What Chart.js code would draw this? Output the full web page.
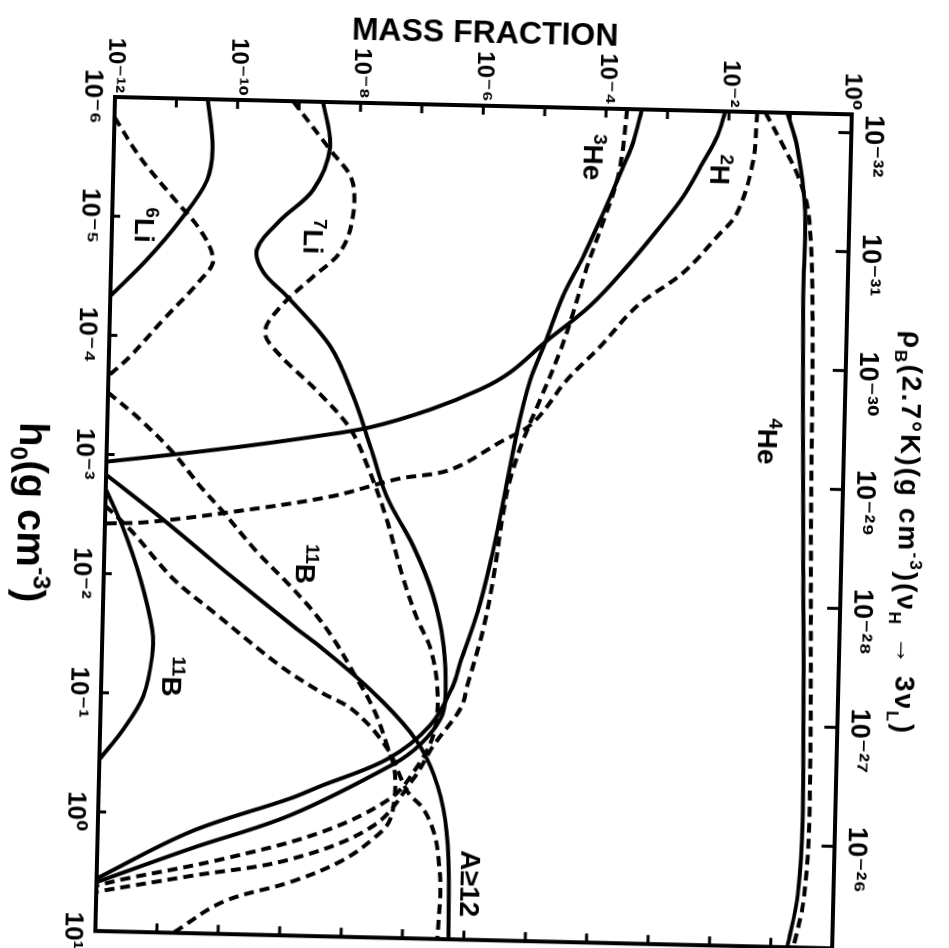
<!DOCTYPE html>
<html><head><meta charset="utf-8">
<title>Mass fraction vs h0</title>
<script src="https://cdn.jsdelivr.net/npm/chart.js@4.4.1/dist/chart.umd.min.js"></script>
<style>
html,body{margin:0;padding:0;background:#fff;}
body{width:949px;height:948px;overflow:hidden;position:relative;}
#wrap{position:absolute;left:15px;top:-750px;width:960px;height:960px;transform-origin:100px 847px;transform:rotate(91.35deg);}
#c{display:block;width:960px;height:960px;}
</style></head><body>
<div id="wrap"><canvas id="c" width="960" height="960"></canvas></div>
<script>
// ---- axis ticks ----
const h0Ticks = [1e-6, 1e-5, 1e-4, 1e-3, 1e-2, 1e-1, 1, 10];
const massTicks = [1e-12, 1e-11, 1e-10, 1e-9, 1e-8, 1e-7, 1e-6, 1e-5, 1e-4, 1e-3, 1e-2, 1e-1, 1];
const rhoTicks = [1e-32, 1e-31, 1e-30, 1e-29, 1e-28, 1e-27, 1e-26];
const rhoMin = 7.2e-33, rhoMax = 7.2e-26;   // rho_B at h0 = 1e-6 and h0 = 10

// ---- series: h0 (g cm^-3) and mass fraction ----
const he4Solid_h0 = [1e-6, 1.9e-6, 6.8e-6, 3.6e-5, 2.2e-3, 0.72, 3.6, 10];
const he4Solid_X  = [8.9e-2, 0.132, 0.19, 0.19, 0.23, 0.295, 0.263, 0.186];
const he4Dash_h0 = [1e-6, 1.9e-6, 3.4e-6, 6.8e-6, 3.6e-5, 2.2e-3, 0.72, 3.9, 10];
const he4Dash_X  = [3.9e-2, 7.9e-2, 0.141, 0.214, 0.269, 0.309, 0.38, 0.331, 0.234];

const h2Solid_h0 = [1e-6, 1.62e-6, 2.69e-6, 5.25e-6, 1.02e-5, 2.09e-5, 4.57e-5, 9.33e-5, 1.70e-4, 2.40e-4, 3.63e-4, 5.25e-4, 6.46e-4, 7.94e-4, 9.55e-4, 1.15e-3];
const h2Solid_X  = [8.71e-3, 6.61e-3, 3.98e-3, 1.95e-3, 7.59e-4, 2.51e-4, 6.46e-5, 1.26e-5, 3.47e-6, 1.15e-6, 1.78e-7, 1.91e-8, 2.29e-9, 1.95e-10, 1.58e-11, 1e-12];
const h2Dash_h0 = [1e-6, 2.63e-6, 7.08e-6, 1.12e-5, 2.29e-5, 4.47e-5, 1e-4, 1.91e-4, 4.47e-4, 6.61e-4, 1.15e-3, 1.41e-3, 2.04e-3, 2.88e-3, 3.63e-3, 3.80e-3];
const h2Dash_X  = [2.88e-2, 2.57e-2, 1.48e-2, 7.24e-3, 2.09e-3, 3.80e-4, 9.77e-5, 2.95e-5, 8.51e-6, 2.51e-6, 3.98e-7, 5.50e-8, 4.57e-9, 1.10e-10, 4.90e-12, 1e-12];

const he3Solid_h0 = [1e-6, 1.91e-6, 3.02e-6, 5.50e-6, 9.77e-6, 1.78e-5, 3.80e-5, 9.33e-5, 1.95e-4, 5.13e-4, 2.00e-3, 6.76e-3, 1.78e-2, 4.68e-2, 7.41e-2, 0.162, 0.316, 0.550, 0.708, 1.41, 3.63];
const he3Solid_X  = [3.80e-4, 2.82e-4, 2.00e-4, 1.26e-4, 7.94e-5, 4.79e-5, 2.34e-5, 1.26e-5, 7.41e-6, 4.79e-6, 3.02e-6, 1.95e-6, 1.26e-6, 6.92e-7, 5.37e-7, 2.34e-7, 4.90e-8, 4.07e-9, 1.32e-9, 3.24e-11, 1e-12];
const he3Dash_h0 = [1e-6, 2.09e-6, 3.89e-6, 9.12e-6, 2.14e-5, 5.25e-5, 1.12e-4, 2.82e-4, 6.17e-4, 1.35e-3, 2.57e-3, 9.33e-3, 2.45e-2, 7.41e-2, 0.115, 0.240, 0.457, 1.15, 2.29, 3.31, 4.68];
const he3Dash_X  = [2.19e-4, 1.95e-4, 1.62e-4, 9.77e-5, 5.62e-5, 3.47e-5, 2.19e-5, 1.10e-5, 6.03e-6, 3.80e-6, 3.02e-6, 2.19e-6, 1.58e-6, 9.12e-7, 7.24e-7, 2.69e-7, 1.32e-7, 3.09e-8, 1.41e-9, 3.39e-11, 1e-12];

const li7Solid_h0 = [1e-6, 2.40e-6, 5.50e-6, 1e-5, 1.78e-5, 2.75e-5, 4.37e-5, 1.12e-4, 2.88e-4, 7.59e-4, 2.00e-3, 5.13e-3, 1.32e-2, 3.47e-2, 9.12e-2, 0.141, 0.234, 0.347, 0.977, 1.95, 3.89];
const li7Solid_X  = [2.45e-9, 3.31e-9, 1.82e-9, 5.50e-10, 2.34e-10, 3.02e-10, 7.59e-10, 3.98e-9, 9.77e-9, 1.95e-8, 3.80e-8, 1.07e-7, 2.34e-7, 3.63e-7, 4.07e-7, 3.47e-7, 1.66e-7, 6.17e-8, 1.35e-9, 3.31e-11, 1e-12];
const li7Dash_h0 = [1e-6, 2.51e-6, 4.47e-6, 9.55e-6, 1.82e-5, 2.95e-5, 5.37e-5, 8.71e-5, 1.29e-4, 2.82e-4, 5.50e-4, 1.17e-3, 2.82e-3, 9.77e-3, 2.09e-2, 3.72e-2, 8.51e-2, 0.191, 0.380, 0.676, 1.32, 2.34, 3.63, 4.17];
const li7Dash_X  = [7.94e-10, 3.31e-9, 7.76e-9, 8.13e-9, 5.25e-9, 1.95e-9, 5.89e-10, 3.39e-10, 5.50e-10, 2.82e-9, 9.12e-9, 1.86e-8, 3.63e-8, 7.59e-8, 1.32e-7, 2.24e-7, 3.02e-7, 2.69e-7, 1.41e-7, 5.62e-8, 4.68e-9, 1.15e-10, 2.75e-12, 1e-12];

const li6Solid_h0 = [1e-6, 2.51e-6, 4.79e-6, 1.05e-5, 2.29e-5, 4.68e-5];
const li6Solid_X  = [3.24e-11, 4.07e-11, 3.39e-11, 1.29e-11, 3.80e-12, 1e-12];
const li6Dash_h0 = [1.48e-6, 3.16e-6, 6.76e-6, 1.26e-5, 2.24e-5, 3.31e-5, 7.24e-5, 1.48e-4, 2.19e-4];
const li6Dash_X  = [1e-12, 2.69e-12, 9.55e-12, 2.75e-11, 4.57e-11, 2.88e-11, 7.41e-12, 2.24e-12, 1e-12];

const b11Solid_h0 = [1.95e-3, 4.17e-3, 1.10e-2, 2.88e-2, 4.79e-2, 0.105, 0.200, 0.363];
const b11Solid_X  = [1e-12, 2.0e-12, 3.98e-12, 6.46e-12, 6.61e-12, 4.90e-12, 2.40e-12, 1e-12];
const b11Dash_h0 = [3.02e-4, 5.01e-4, 9.33e-4, 1.78e-3, 2.88e-3, 6.17e-3, 1.10e-2, 1.91e-2, 3.16e-2, 6.03e-2, 0.120, 0.245, 0.437, 1.0, 1.48, 2.34, 3.55, 5.37, 10];
const b11Dash_X  = [1e-12, 3.39e-12, 1.20e-11, 3.47e-11, 8.32e-11, 3.09e-10, 9.77e-10, 2.69e-9, 5.75e-9, 1.26e-8, 2.75e-8, 4.79e-8, 6.61e-8, 5.75e-8, 3.09e-8, 9.12e-9, 1.45e-9, 1.17e-10, 1.86e-11];

const a12Solid_h0 = [1.48e-3, 2.82e-3, 5.25e-3, 9.12e-3, 2.69e-2, 3.72e-2, 8.32e-2, 0.186, 0.355, 0.813, 2.09, 10];
const a12Solid_X  = [1e-12, 5.37e-12, 2.51e-11, 9.55e-11, 1.48e-9, 3.55e-9, 2.40e-8, 1.12e-7, 2.45e-7, 4.17e-7, 5.25e-7, 5.62e-7];
const a12Dash_h0 = [2.69e-3, 4.47e-3, 1.07e-2, 2.00e-2, 5.50e-2, 8.91e-2, 0.126, 0.257, 0.589, 0.813, 1.26, 2.14, 3.98, 10];
const a12Dash_X  = [1e-12, 2.88e-12, 1.35e-11, 6.31e-11, 8.13e-10, 3.72e-9, 1.32e-8, 4.79e-8, 1.07e-7, 1.95e-7, 2.95e-7, 3.63e-7, 3.98e-7, 3.72e-7];

// ---- curve labels ----
const labelText = ['3He', '2H', '4He', '7Li', '6Li', '11B', '11B', 'A≥12'];
const labelH0   = [2.57e-6, 3.09e-6, 5.75e-4, 1.35e-5, 1.17e-5, 7.59e-3, 7.08e-2, 3.39];
const labelX    = [6.46e-5, 7.59e-3, 5.89e-2, 1.91e-9, 3.47e-12, 1.91e-9, 1.41e-11, 1.23e-6];

const FAM = '"Liberation Sans", Arial, "DejaVu Sans", sans-serif';
const INK = '#000';
const SUP = {'-':'⁻','0':'⁰','1':'¹','2':'²','3':'³','4':'⁴','5':'⁵','6':'⁶','7':'⁷','8':'⁸','9':'⁹'};
function pow10Label(v) {
  const e = Math.round(Math.log10(v));
  return '10' + String(e).split('').map(c => SUP[c] || c).join('');
}

function series(label, hs, xs, dashed) {
  return {
    label,
    data: hs.map((h, i) => ({x: h, y: xs[i]})),
    borderColor: INK,
    borderWidth: 4,
    borderDash: dashed ? [10, 6] : [],
    borderCapStyle: 'butt',
    tension: 0.35,
    pointRadius: 0,
    fill: false
  };
}

const datasets = [
  series('4He', he4Solid_h0, he4Solid_X, false),
  series('4He (ν_H → 3ν_L)', he4Dash_h0, he4Dash_X, true),
  series('2H', h2Solid_h0, h2Solid_X, false),
  series('2H (ν_H → 3ν_L)', h2Dash_h0, h2Dash_X, true),
  series('3He', he3Solid_h0, he3Solid_X, false),
  series('3He (ν_H → 3ν_L)', he3Dash_h0, he3Dash_X, true),
  series('7Li', li7Solid_h0, li7Solid_X, false),
  series('7Li (ν_H → 3ν_L)', li7Dash_h0, li7Dash_X, true),
  series('6Li', li6Solid_h0, li6Solid_X, false),
  series('6Li (ν_H → 3ν_L)', li6Dash_h0, li6Dash_X, true),
  series('11B', b11Solid_h0, b11Solid_X, false),
  series('11B (ν_H → 3ν_L)', b11Dash_h0, b11Dash_X, true),
  series('A≥12', a12Solid_h0, a12Solid_X, false),
  series('A≥12 (ν_H → 3ν_L)', a12Dash_h0, a12Dash_X, true)
];

function drawRuns(ctx, parts, cx, baseY, size, spacing) {
  ctx.letterSpacing = (spacing || 0) + 'px';
  let total = 0;
  parts.forEach(p => {
    ctx.font = 'bold ' + (size * (p.s || 1)) + 'px ' + FAM;
    p.w = ctx.measureText(p.t).width;
    total += p.w;
  });
  let x = cx - total / 2;
  ctx.textAlign = 'left';
  ctx.textBaseline = 'alphabetic';
  parts.forEach(p => {
    ctx.font = 'bold ' + (size * (p.s || 1)) + 'px ' + FAM;
    ctx.fillText(p.t, x, baseY + (p.dy || 0) * size);
    x += p.w;
  });
  ctx.letterSpacing = '0px';
}

function labelParts(txt) {
  const m = txt.match(/^(\d+)(.*)$/);
  if (m) return [{t: m[1], s: 0.68, dy: -0.38}, {t: m[2]}];
  return [{t: txt}];
}

const framePlugin = {
  id: 'frameAndText',
  afterDraw(chart) {
    const {ctx, chartArea: a, scales} = chart;
    const sx = scales.x, sy = scales.y, sx2 = scales.x2;
    ctx.save();
    ctx.strokeStyle = INK; ctx.fillStyle = INK;
    ctx.setLineDash([]);
    ctx.lineWidth = 4;
    ctx.strokeRect(a.left, a.top, a.right - a.left, a.bottom - a.top);
    ctx.lineWidth = 3;
    ctx.beginPath();
    massTicks.forEach(v => {
      const p = sy.getPixelForValue(v);
      ctx.moveTo(a.left, p); ctx.lineTo(a.left + 9, p);
      ctx.moveTo(a.right, p); ctx.lineTo(a.right - 9, p);
    });
    h0Ticks.forEach(v => {
      const p = sx.getPixelForValue(v);
      ctx.moveTo(p, a.bottom); ctx.lineTo(p, a.bottom - 8);
    });
    rhoTicks.forEach(v => {
      const p = sx2.getPixelForValue(v);
      ctx.moveTo(p, a.top); ctx.lineTo(p, a.top + 13);
    });
    ctx.stroke();

    // curve labels
    labelText.forEach((t, i) => {
      const px = sx.getPixelForValue(labelH0[i]);
      const py = sy.getPixelForValue(labelX[i]);
      drawRuns(ctx, labelParts(t), px, py + 10, 28, 0);
    });

    // axis titles
    const cx = (a.left + a.right) / 2;
    drawRuns(ctx, [
      {t: 'ρ'}, {t: 'B', s: 0.62, dy: 0.28},
      {t: '(2.7°K)(g cm'}, {t: '-3', s: 0.62, dy: -0.42},
      {t: ')(ν'}, {t: 'H', s: 0.62, dy: 0.28},
      {t: ' → 3ν'}, {t: 'L', s: 0.62, dy: 0.28}, {t: ')'}
    ], cx, 53, 28, 2);
    drawRuns(ctx, [
      {t: 'h'}, {t: '0', s: 0.62, dy: 0.22},
      {t: '(g cm'}, {t: '-3', s: 0.62, dy: -0.42}, {t: ')'}
    ], cx, 934, 40, 0);

    ctx.save();
    ctx.translate(28, (a.top + a.bottom) / 2);
    ctx.rotate(-Math.PI / 2);
    ctx.font = 'bold 32px ' + FAM;
    ctx.textAlign = 'center';
    ctx.textBaseline = 'middle';
    ctx.fillText('MASS FRACTION', 0, 0);
    ctx.restore();

    ctx.restore();
  }
};

const tickFont = (size) => ({family: FAM, size, weight: 'bold'});

new Chart(document.getElementById('c'), {
  type: 'line',
  data: {datasets},
  options: {
    animation: false,
    responsive: false,
    devicePixelRatio: 1,
    layout: {padding: {left: 0, top: 0, bottom: 0, right: 24}},
    plugins: {legend: {display: false}, tooltip: {enabled: false}},
    scales: {
      x: {
        type: 'logarithmic', position: 'bottom', min: 1e-6, max: 10,
        afterBuildTicks: s => { s.ticks = h0Ticks.map(v => ({value: v})); },
        afterFit: s => { s.height = 113; },
        grid: {display: false, drawTicks: false},
        border: {display: false},
        ticks: {autoSkip: false, maxRotation: 0, minRotation: 0, padding: 7, color: INK,
                font: tickFont(26), callback: v => pow10Label(v)}
      },
      x2: {
        type: 'logarithmic', position: 'top', min: rhoMin, max: rhoMax,
        afterBuildTicks: s => { s.ticks = rhoTicks.map(v => ({value: v})); },
        afterFit: s => { s.height = 110; },
        grid: {display: false, drawTicks: false},
        border: {display: false},
        ticks: {autoSkip: false, maxRotation: 0, minRotation: 0, padding: 5, labelOffset: 13, color: INK,
                font: tickFont(27), callback: v => pow10Label(v)}
      },
      y: {
        type: 'logarithmic', position: 'left', min: 1e-12, max: 1,
        afterBuildTicks: s => { s.ticks = massTicks.map(v => ({value: v})); },
        afterFit: s => { s.width = 100; },
        grid: {display: false, drawTicks: false},
        border: {display: false},
        ticks: {autoSkip: false, padding: 4, color: INK, font: tickFont(24),
                callback: v => (Math.round(Math.log10(v)) % 2 === 0 ? pow10Label(v) : '')}
      }
    }
  },
  plugins: [framePlugin]
});
</script>
</body></html>
